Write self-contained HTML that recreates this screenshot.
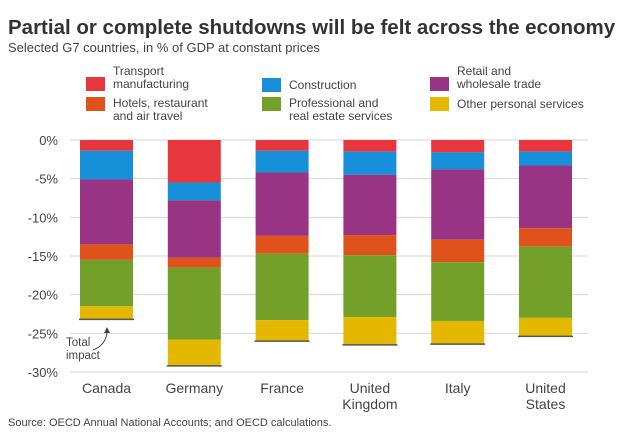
<!DOCTYPE html>
<html><head><meta charset="utf-8"><style>
body{margin:0;background:#fff;font-family:"Liberation Sans",sans-serif;}
svg text{font-family:"Liberation Sans",sans-serif;}
</style></head><body>
<svg id="c" width="640" height="437" viewBox="0 0 640 437">
<text x="8" y="34" font-size="20.5" font-weight="bold" fill="#333">Partial or complete shutdowns will be felt across the economy</text>
<text x="8" y="52" font-size="13" fill="#444">Selected G7 countries, in % of GDP at constant prices</text>
<g id="legend"></g>
<g id="grid"></g><g id="bars"></g><g id="labels"></g>
<text x="66" y="346" font-size="11.5" fill="#444">Total</text>
<text x="66" y="359" font-size="11.5" fill="#444">impact</text>
<path d="M93 350 Q106 345 107 332" fill="none" stroke="#444" stroke-width="1"/>
<path d="M104 333 L107 327 L110 333 Z" fill="#444"/>
<text x="8" y="426" font-size="11" fill="#444">Source: OECD Annual National Accounts; and OECD calculations.</text>
</svg>
<script>
const categories=[["Canada"],["Germany"],["France"],["United","Kingdom"],["Italy"],["United","States"]];
const seriesNames=["Transport manufacturing","Construction","Retail and wholesale trade","Hotels, restaurant and air travel","Professional and real estate services","Other personal services"];
const transport=[1.4,5.5,1.4,1.5,1.6,1.5];
const construction=[3.7,2.3,2.8,3.0,2.2,1.8];
const retail=[8.4,7.4,8.2,7.8,9.1,8.1];
const hotels=[2.0,1.3,2.3,2.6,2.9,2.4];
const professional=[6.0,9.3,8.6,8.0,7.6,9.2];
const other=[1.7,3.4,2.7,3.6,3.0,2.4];
const ticks=[0,-5,-10,-15,-20,-25,-30];
const tickLabels=["0%","-5%","-10%","-15%","-20%","-25%","-30%"];
const series=[transport,construction,retail,hotels,professional,other];
const colors=["#e8363f","#1690d8","#993484","#e0521c","#72a029","#e4b800"];
const NS="http://www.w3.org/2000/svg";
const y0=140,pxPer=232/30;
function yScale(v){return y0-v*pxPer;}
function xBand(i){return 80+i*87.8;}
const bw=53;
function mk(p,t,a){const e=document.createElementNS(NS,t);for(const k in a)e.setAttribute(k,a[k]);p.appendChild(e);return e;}
const grid=document.getElementById('grid');
ticks.forEach((t,i)=>{
 const l=mk(grid,'line',{x1:70,x2:588,y1:yScale(t),y2:yScale(t),stroke:'#d6d6d6','stroke-width':1});
 
 
 const tx=mk(grid,'text',{x:58,y:yScale(t)+5,'text-anchor':'end','font-size':13,fill:'#444'});
 tx.textContent=tickLabels[i];
 
 
});
const bars=document.getElementById('bars');
const lab=document.getElementById('labels');
categories.forEach((c,i)=>{
 let cum=0;
 series.forEach((s,j)=>{
  const r=mk(bars,'rect',{x:xBand(i),y:yScale(-cum),width:bw,height:s[i]*pxPer,fill:colors[j]});
  
  
  cum+=s[i];
 });
 const t=mk(bars,'line',{x1:xBand(i)-1,x2:xBand(i)+bw+1,y1:yScale(-cum),y2:yScale(-cum),stroke:'#555','stroke-width':1.5});
 
 
 c.forEach((w,k)=>{
  const tx=mk(lab,'text',{x:xBand(i)+bw/2,y:393+k*16,'text-anchor':'middle','font-size':14,fill:'#444'});
  tx.textContent=w;
  
  
 });
});
const leg=document.getElementById('legend');
const legPos=[[86,77,["Transport","manufacturing"]],[262,78,["Construction"]],[430,77,["Retail and","wholesale trade"]],[86,97,["Hotels, restaurant","and air travel"]],[262,97,["Professional and","real estate services"]],[430,97,["Other personal services"]]];
const legColorIdx=[0,1,2,3,4,5];
legPos.forEach((p,i)=>{
 const r=mk(leg,'rect',{x:p[0],y:p[1],width:19,height:14,fill:colors[legColorIdx[i]]});
 
 
 const lines=p[2];
 lines.forEach((w,k)=>{
  const yy=lines.length==1?p[1]+11:(i<3?p[1]-2+k*13:p[1]+10+k*13);
  const tx=mk(leg,'text',{x:p[0]+27,y:yy,'font-size':12,fill:'#444'});
  tx.textContent=w;
  
  
 });
});
</script>
</body></html>
